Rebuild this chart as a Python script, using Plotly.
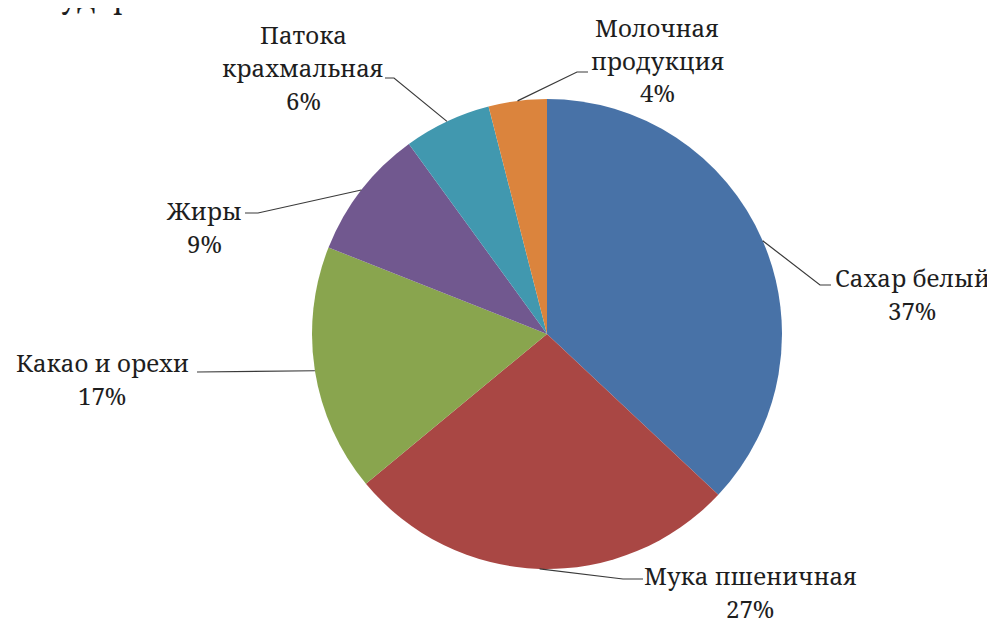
import math
import plotly.graph_objects as go

# ---- data ----
categories = ["Сахар белый", "Мука пшеничная", "Какао и орехи", "Жиры",
              "Патока крахмальная", "Молочная продукция"]
values = [37, 27, 17, 9, 6, 4]
label_lines = [["Сахар белый"], ["Мука пшеничная"], ["Какао и орехи"], ["Жиры"],
               ["Патока", "крахмальная"], ["Молочная", "продукция"]]

# ---- style / layout ----
W, H = 995, 618
OFF = 8                            # page body margin in the browser
colors = ["#4872a7", "#a94744", "#89a54e", "#71588f", "#4198af", "#db843d"]
CX, CY, R = 547, 334, 235          # pie centre / radius in page px
FONT = "Noto Serif, DejaVu Serif, serif"
FSIZE = 24
LINE_H = 33
# label block centre (page px) and leader elbow / stub end (page px)
label_pos = [(912, 294), (750, 592), (102, 379), (204, 227), (303, 68), (657, 60)]
leader_pts = [[(820, 285), (831, 285)],
              [(623, 579), (643, 579)],
              [(197, 372)],
              [(258, 213), (245, 213)],
              [(394, 78), (385, 78)],
              [(577, 72), (588, 72)]]


def px(x):
    return (x - OFF) / W


def py(y):
    return 1 - (y - OFF) / H


fig = go.Figure(go.Pie(
    labels=categories, values=values, sort=False, direction="clockwise",
    rotation=0, marker=dict(colors=colors, line=dict(width=0)),
    textinfo="none", hoverinfo="label+percent", showlegend=False,
    domain=dict(x=[px(CX - R), px(CX + R)], y=[py(CY + R), py(CY - R)]),
))

total = sum(values)
cum = 0
shapes, annotations = [], []
for i, v in enumerate(values):
    mid = (cum + v / 2) / total * 2 * math.pi
    cum += v
    ex = CX + R * math.sin(mid)
    ey = CY - R * math.cos(mid)
    pts = [(ex, ey)] + leader_pts[i]
    path = "M " + " L ".join(f"{px(a):.5f},{py(b):.5f}" for a, b in pts)
    shapes.append(dict(type="path", path=path, xref="paper", yref="paper",
                       line=dict(color="#3a3a3a", width=1.2)))
    pct = round(v / total * 100)
    lines = label_lines[i] + [f"{pct}%"]
    lx, ly = label_pos[i]
    n = len(lines)
    for j, t in enumerate(lines):
        yy = ly + (j - (n - 1) / 2) * LINE_H
        annotations.append(dict(x=px(lx), y=py(yy), xref="paper", yref="paper",
                                text=t, showarrow=False, align="center",
                                xanchor="center", yanchor="middle",
                                font=dict(family=FONT, size=FSIZE, color="#1e1e1e")))

# cropped fragment of page text at top
annotations.append(dict(x=px(58), y=py(19), xref="paper", yref="paper",
                        text="удар", showarrow=False, xanchor="left", yanchor="bottom",
                        font=dict(family=FONT, size=30, color="#1e1e1e")))

fig.update_layout(width=W, height=H, margin=dict(l=0, r=0, t=0, b=0),
                  paper_bgcolor="white", plot_bgcolor="white",
                  shapes=shapes, annotations=annotations)
fig.write_html("out.html")
